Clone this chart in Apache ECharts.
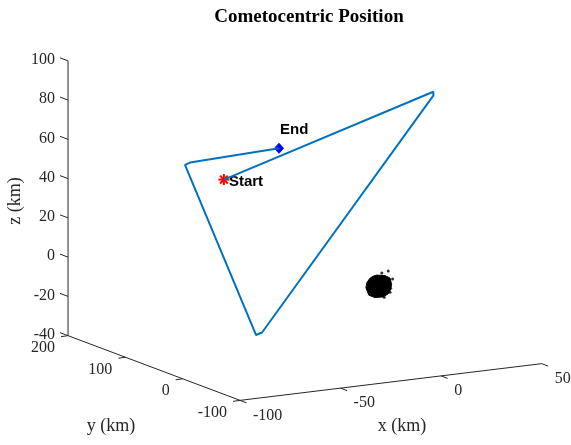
<!DOCTYPE html>
<html><head><meta charset="utf-8">
<script src="https://cdn.jsdelivr.net/npm/echarts@6/dist/echarts.min.js"></script>
<style>html,body{margin:0;padding:0;background:#fff}#c{width:571px;height:445px}</style>
</head><body><div id="c"></div>
<script>
// ---- data (km) ----
const xRange = [-100, 50];
const yRange = [-100, 200];
const zRange = [-40, 100];
const xTicks = [-100, -50, 0, 50];
const yTicks = [-100, 0, 100, 200];
const zTicks = [-40, -20, 0, 20, 40, 60, 80, 100];

const trajX = [-51.0, 24.6, 24.7, -46.3, -49.3, -56.1, -53.6, -23.6];
const trajY = [100, 0, 0, 50, 50, 150, 150, 100];
const trajZ = [44.4, 90.7, 88.8, -28.6, -29.5, 47.0, 47.9, 56.9];

const startPt = [-51.0, 100, 44.4];
const endPt = [-23.6, 100, 56.9];

// comet shape model outline (y = 0 plane) and stray surface points
const cometX = [-3.5, 0.6, 3.1, 3.9, 3.1, 2.1, -0.4, -4.4, -7.4, -8.9, -8.4, -6.9, -5.4];
const cometZ = [0.8, 0.0, -1.5, -5.0, -8.0, -9.5, -10.7, -10.5, -9.0, -5.0, -2.4, -0.4, 0.4];
const cometDotX = [2.2, 4.4, 3.4, 3.1, 0.2, -1.0];
const cometDotZ = [2.2, -2.2, -6.8, -8.8, -10.9, 1.6];

// ---- view (orthographic projection of the 3-D box) ----
const O = [383.8, 275.8], EX = [2.011, -0.2447], EY = [-0.5733, -0.2157], EZ = [0, -1.963];
function proj(x, y, z) {
  return [O[0] + EX[0]*x + EY[0]*y + EZ[0]*z, O[1] + EX[1]*x + EY[1]*y + EZ[1]*z];
}
const AX = '#262626';
const tickFont = '16px "Liberation Serif", "Times New Roman", serif';
const markFont = 'bold 15px "Liberation Sans", Arial, sans-serif';

const trajData = trajX.map((x, i) => proj(x, trajY[i], trajZ[i]));
const cometPoly = cometX.map((x, i) => proj(x, 0, cometZ[i]));
const cometDots = cometDotX.map((x, i) => proj(x, 0, cometDotZ[i]));

const axisLines = [
  [proj(xRange[0], yRange[1], zRange[0]), proj(xRange[0], yRange[1], zRange[1])],
  [proj(xRange[0], yRange[1], zRange[0]), proj(xRange[0], yRange[0], zRange[0])],
  [proj(xRange[0], yRange[0], zRange[0]), proj(xRange[1], yRange[0], zRange[0])]
];

function tickSeries(pts, labels, dx, dy, lx, ly, align) {
  return {
    type: 'custom', silent: true, animation: false,
    data: pts.map((p, i) => [p[0], p[1], labels[i]]),
    renderItem: function (params, api) {
      const p = api.coord([api.value(0), api.value(1)]);
      return { type: 'group', children: [
        { type: 'line', shape: { x1: p[0], y1: p[1], x2: p[0] + dx, y2: p[1] + dy },
          style: { stroke: AX, lineWidth: 1 } },
        { type: 'text', x: p[0] + lx, y: p[1] + ly,
          style: { text: String(labels[params.dataIndex]), textAlign: align, textVerticalAlign: 'middle',
                   font: tickFont, fill: '#262626' } }
      ]};
    }
  };
}

const chart = echarts.init(document.getElementById('c'), null, { renderer: 'canvas' });
const series = [];
axisLines.forEach(seg => series.push({
  type: 'line', data: seg, showSymbol: false, silent: true, animation: false,
  lineStyle: { color: AX, width: 1 }
}));
series.push(tickSeries(zTicks.map(z => proj(xRange[0], yRange[1], z)), zTicks, -8, -3, -13, -1, 'right'));
series.push(tickSeries(yTicks.map(y => proj(xRange[0], y, zRange[0])), yTicks, -7, 1, -13, 12.5, 'right'));
series.push(tickSeries(xTicks.map(x => proj(x, yRange[0], zRange[0])), xTicks, 6.5, 2.5, 13, 15, 'left'));

// comet
series.push({
  type: 'custom', silent: true, animation: false, data: [[0, 0]],
  renderItem: function (params, api) {
    return { type: 'polygon', shape: { points: cometPoly.map(p => api.coord(p)) },
             style: { fill: '#000', stroke: '#000', lineWidth: 1 } };
  }
});
series.push({ type: 'scatter', data: cometDots, symbolSize: 3, silent: true, animation: false,
  itemStyle: { color: '#000' } });

// trajectory
series.push({ type: 'line', data: trajData, showSymbol: false, silent: true, animation: false,
  lineStyle: { color: '#0072BD', width: 2 } });

// start marker (asterisk) + label
series.push({
  type: 'custom', silent: true, animation: false, data: [proj(startPt[0], startPt[1], startPt[2])],
  renderItem: function (params, api) {
    const p = api.coord([api.value(0), api.value(1)]);
    const r = 5.5, children = [];
    for (let k = 0; k < 4; k++) {
      const a = k * Math.PI / 4;
      children.push({ type: 'line', shape: { x1: p[0] - r*Math.cos(a), y1: p[1] - r*Math.sin(a),
        x2: p[0] + r*Math.cos(a), y2: p[1] + r*Math.sin(a) }, style: { stroke: '#FF0000', lineWidth: 2 } });
    }
    children.push({ type: 'text', x: p[0] + 5, y: p[1] + 2,
      style: { text: 'Start', textAlign: 'left', textVerticalAlign: 'middle', font: markFont, fill: '#000' } });
    return { type: 'group', children };
  }
});
// end marker + label
series.push({
  type: 'custom', silent: true, animation: false, data: [proj(endPt[0], endPt[1], endPt[2])],
  renderItem: function (params, api) {
    const p = api.coord([api.value(0), api.value(1)]);
    return { type: 'group', children: [
      { type: 'polygon', shape: { points: [[p[0], p[1] - 5], [p[0] + 4.5, p[1]], [p[0], p[1] + 5], [p[0] - 4.5, p[1]]] },
        style: { fill: '#0000FF', stroke: '#0000FF', lineWidth: 1 } },
      { type: 'text', x: p[0] + 1, y: p[1] - 18,
        style: { text: 'End', textAlign: 'left', textVerticalAlign: 'middle', font: markFont, fill: '#000' } }
    ]};
  }
});

chart.setOption({
  animation: false,
  title: { text: 'Cometocentric Position', left: 304, top: 3, textAlign: 'center',
    textStyle: { fontFamily: '"Liberation Serif", "Times New Roman", serif', fontWeight: 'bold', fontSize: 19, color: '#000' } },
  grid: { left: 0, right: 0, top: 0, bottom: 0 },
  xAxis: { type: 'value', min: 0, max: 571, show: false },
  yAxis: { type: 'value', min: 0, max: 445, inverse: true, show: false },
  graphic: [
    { type: 'text', x: 15, y: 201, rotation: Math.PI / 2,
      style: { text: 'z (km)', textAlign: 'center', textVerticalAlign: 'middle',
               font: '18px "Liberation Serif", "Times New Roman", serif', fill: '#262626' } },
    { type: 'text', x: 111, y: 426,
      style: { text: 'y (km)', textAlign: 'center', textVerticalAlign: 'middle',
               font: '18px "Liberation Serif", "Times New Roman", serif', fill: '#262626' } },
    { type: 'text', x: 402, y: 426,
      style: { text: 'x (km)', textAlign: 'center', textVerticalAlign: 'middle',
               font: '18px "Liberation Serif", "Times New Roman", serif', fill: '#262626' } }
  ],
  series: series
});
</script></body></html>
